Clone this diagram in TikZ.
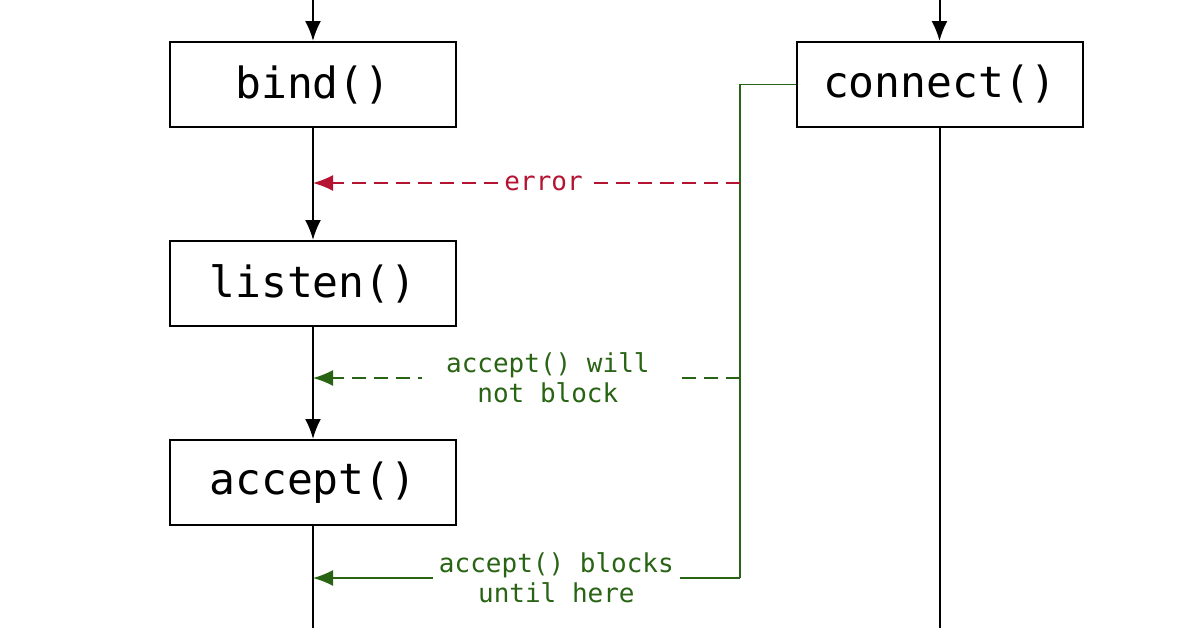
\documentclass[tikz,border=0pt]{standalone}
\usepackage{fontspec}
\setmonofont{DejaVu Sans Mono}
\usetikzlibrary{arrows.meta}
\definecolor{grn}{RGB}{40,100,20}
\definecolor{rd}{RGB}{180,20,50}
\begin{document}
\begin{tikzpicture}[x=0.5pt,y=-0.5pt,
  box/.style={draw,line width=1pt,minimum width=143pt,minimum height=42.5pt,inner sep=0,font=\ttfamily\fontsize{21.5}{24}\selectfont},
  flow/.style={line width=1pt,-{Latex[length=10pt,width=8pt]}},
  msg/.style={line width=0.8pt,-{Latex[length=10pt,width=8pt]}},
  lbl/.style={fill=white,inner sep=3pt,font=\ttfamily\fontsize{13}{15}\selectfont,align=center}]
\useasboundingbox[fill=white] (0,0) rectangle (1196,628);
\node[box] (bind) at (313,84.5) {bind()};
\node[box] (listen) at (313,283.5) {listen()};
\node[box] (accept) at (313,482.5) {accept()};
\node[box] (connect) at (939.5,84.5) {connect()};
\coordinate (t1) at (313,0); \coordinate (t2) at (939.5,0);
\coordinate (b1) at (313,628); \coordinate (b2) at (939.5,628);
\draw[flow] (t1) -- (bind.north);
\draw[flow] (t2) -- (connect.north);
\draw[flow] (bind.south) -- (listen.north);
\draw[flow] (listen.south) -- (accept.north);
\draw[line width=1pt] (accept.south) -- (b1);
\draw[line width=1pt] (connect.south) -- (b2);
\coordinate (g1) at (740,84.5); \coordinate (g2) at (740,578); \coordinate (e1) at (313,578);
\coordinate (r0) at (740,183); \coordinate (r1) at (313,183);
\coordinate (d0) at (740,378); \coordinate (d1) at (313,378);
\draw[grn,line width=0.8pt] (connect.west) -- (g1) -- (g2);
\draw[msg,grn] (g2) -- (e1) node[lbl,text=grn,pos=0.43] {accept() blocks\\until here};
\draw[msg,rd,dashed,dash pattern=on 7pt off 4pt] (r0) -- (r1) node[lbl,text=rd,pos=0.46] {error};
\draw[msg,grn,dashed,dash pattern=on 7pt off 4pt] (d0) -- (d1) node[lbl,text=grn,pos=0.45,inner xsep=12pt] {accept() will\\not block};
\end{tikzpicture}
\end{document}
